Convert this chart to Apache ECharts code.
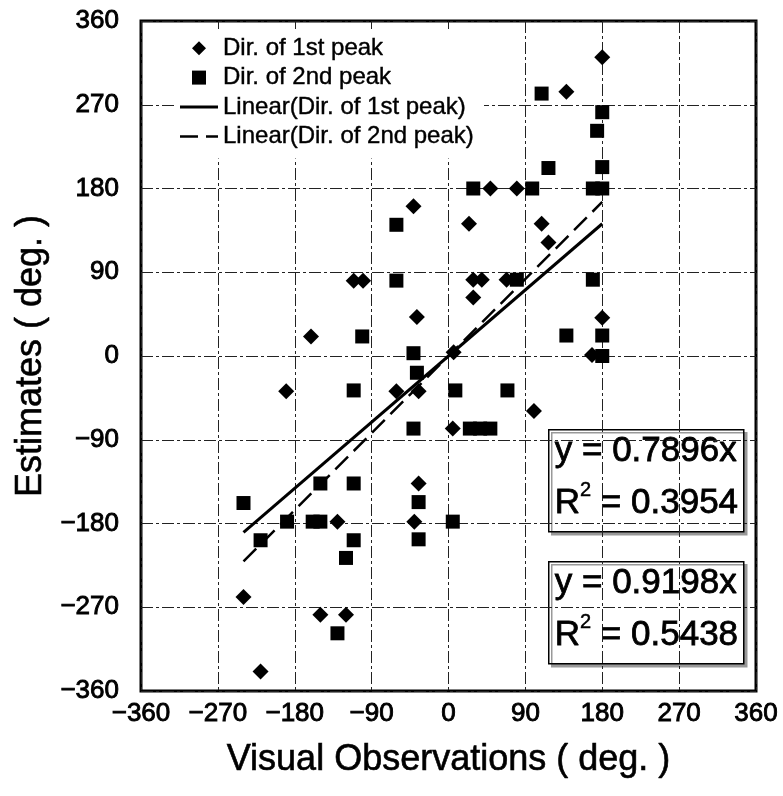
<!DOCTYPE html>
<html>
<head>
<meta charset="utf-8">
<script src="https://cdn.jsdelivr.net/npm/echarts@6/dist/echarts.min.js"></script>
<style>
  html, body { margin: 0; padding: 0; background: #fff; }
  #chart { width: 783px; height: 796px; }
</style>
</head>
<body>
<div id="chart"></div>
<script>
// Direction of the 1st spectral peak: visual observation vs. estimate (deg.)
const firstPeakObs = [180, 138, 49, 80, -41, -111, -100, -37, -161, 24, 109, 117, 29, 39, 29, 68,
  180, 6, 168, -190, -61, -35, 5, 100, -35, -130, -40, -240, -150, -120, -220];
const firstPeakEst = [321, 284, 180, 180, 161, 81, 81, 42, 21, 142, 142, 122, 82, 82, 63, 82,
  41, 4, 1, -38, -38, -38, -78, -59, -137, -178, -178, -259, -278, -278, -339];

// Direction of the 2nd spectral peak
const secondPeakObs = [109, 180, 174, 117, 180, 29, 98, 169, 180, 80, 169, 138, 180, 180,
  -61, -61, -101, -41, -37, -111, 8, 69, -41, 25, 37, 49, -150, -111, -240, -35,
  -189, -159, -150, 5, -220, -111, -35, -120, -130];
const secondPeakEst = [282, 262, 242, 202, 203, 180, 180, 180, 180, 82, 82, 22, 22, 0,
  141, 81, 21, 3, -18, -37, -37, -37, -78, -78, -78, -78, -137, -137, -158, -157,
  -178, -178, -178, -178, -198, -198, -197, -217, -298];

// Zero-intercept linear fits and their coefficients of determination
const fitSlopes = [0.7896, 0.9198];
const fitR2 = [0.3954, 0.5438];

const seriesNames = ['Dir. of 1st peak', 'Dir. of 2nd peak',
  'Linear(Dir. of 1st peak)', 'Linear(Dir. of 2nd peak)'];

// Legend glyphs: diamond, square, solid stroke, dashed stroke
const legendIcons = [
  'path://M7,0L14,7L7,14L0,7Z',
  'path://M0,0H14V14H0Z',
  'path://M0,0H38V3H0Z',
  'path://M0,0H18V2.5H0ZM26,0H38V2.5H26Z'
];

// Axis range shared by both axes
const axisMin = -360, axisMax = 360, axisStep = 90;

const xTitle = 'Visual Observations ( deg. )';
const yTitle = 'Estimates ( deg. )';

const FONT = '"Liberation Sans", Arial, sans-serif';

function pairs(xs, ys) { return xs.map((x, i) => [x, ys[i]]); }
function fitLine(xs, slope) {
  const lo = Math.min(...xs), hi = Math.max(...xs);
  return [[lo, slope * lo], [hi, slope * hi]];
}
const minusFmt = v => String(v).replace('-', '\u2212');

const gridLine = { show: true, lineStyle: { color: '#222', width: 1, type: [12, 3, 3, 3] } };

// Thin outline around glyphs to give the text a heavier stroke
const heavy = w => ({ textBorderColor: '#000', textBorderWidth: w });

const chart = echarts.init(document.getElementById('chart'), null, { renderer: 'canvas' });

function fitBox(top, slope, r2) {
  return {
    type: 'group',
    left: 548, top: top,
    children: [
      {
        type: 'rect',
        shape: { x: 0, y: 0, width: 195, height: 102 },
        style: { fill: '#fff', stroke: '#000', lineWidth: 1.5,
          shadowColor: '#999', shadowOffsetX: 3, shadowOffsetY: 3, shadowBlur: 0 }
      },
      {
        type: 'text', x: 6, y: 4,
        style: {
          text: 'y = ' + slope.toFixed(4) + 'x',
          font: '35px ' + FONT, fill: '#000', stroke: '#000', lineWidth: 0.8
        }
      },
      {
        type: 'text', x: 6, y: 51,
        style: {
          text: '{r|R}{s|2}{r| = ' + r2.toFixed(4) + '}',
          fill: '#000',
          rich: {
            r: { fontSize: 35, fontFamily: FONT, lineHeight: 40, verticalAlign: 'bottom',
              stroke: '#000', lineWidth: 0.8 },
            s: { fontSize: 20, fontFamily: FONT, lineHeight: 40, verticalAlign: 'top',
              stroke: '#000', lineWidth: 0.5 }
          }
        }
      }
    ]
  };
}

chart.setOption({
  backgroundColor: '#fff',
  animation: false,
  grid: {
    left: 141, right: 27, top: 21, bottom: 105,
    show: true, borderColor: '#000', borderWidth: 3, backgroundColor: '#fff'
  },
  legend: {
    orient: 'vertical',
    left: 176, top: 29,
    itemWidth: 38, itemHeight: 14, itemGap: 5,
    symbolKeepAspect: true,
    backgroundColor: '#fff',
    padding: [7, 10, 10, 4],
    textStyle: Object.assign({ fontFamily: FONT, fontSize: 24, color: '#000' }, heavy(0.4)),
    data: seriesNames.map((n, i) => ({ name: n, icon: legendIcons[i] }))
  },
  xAxis: {
    type: 'value', min: axisMin, max: axisMax, interval: axisStep,
    axisLine: { show: false }, axisTick: { show: false },
    splitLine: gridLine,
    axisLabel: Object.assign({ fontFamily: FONT, fontSize: 26, color: '#000', margin: 10, formatter: minusFmt }, heavy(0.9)),
    name: xTitle, nameLocation: 'middle', nameGap: 51,
    nameTextStyle: Object.assign({ fontFamily: FONT, fontSize: 36, color: '#000' }, heavy(0.6))
  },
  yAxis: {
    type: 'value', min: axisMin, max: axisMax, interval: axisStep,
    axisLine: { show: false }, axisTick: { show: false },
    splitLine: gridLine,
    axisLabel: Object.assign({ fontFamily: FONT, fontSize: 26, color: '#000', margin: 22, formatter: minusFmt }, heavy(0.9)),
    name: yTitle, nameLocation: 'middle', nameGap: 91,
    nameTextStyle: Object.assign({ fontFamily: FONT, fontSize: 36, color: '#000' }, heavy(0.6))
  },
  series: [
    {
      name: seriesNames[0], type: 'scatter',
      symbol: 'diamond', symbolSize: 16,
      itemStyle: { color: '#000', opacity: 1 },
      data: pairs(firstPeakObs, firstPeakEst), z: 3
    },
    {
      name: seriesNames[1], type: 'scatter',
      symbol: 'rect', symbolSize: 14,
      itemStyle: { color: '#000', opacity: 1 },
      data: pairs(secondPeakObs, secondPeakEst), z: 3
    },
    {
      name: seriesNames[2], type: 'line', symbol: 'none',
      lineStyle: { color: '#000', width: 3, type: 'solid' },
      itemStyle: { color: '#000' },
      data: fitLine(firstPeakObs, fitSlopes[0]), z: 4
    },
    {
      name: seriesNames[3], type: 'line', symbol: 'none',
      lineStyle: { color: '#000', width: 2.5, type: [18, 8] },
      itemStyle: { color: '#000' },
      data: fitLine(secondPeakObs, fitSlopes[1]), z: 4
    }
  ],
  graphic: [
    fitBox(429, fitSlopes[0], fitR2[0]),
    fitBox(561, fitSlopes[1], fitR2[1])
  ]
});
</script>
</body>
</html>
